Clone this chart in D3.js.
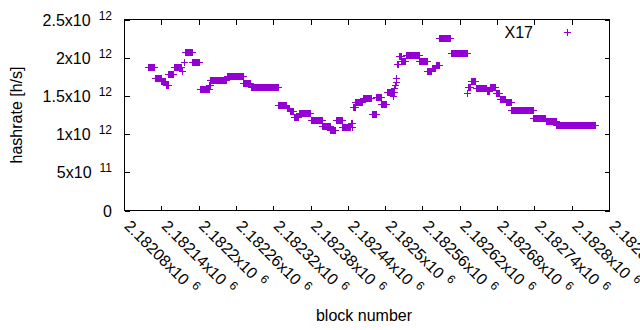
<!DOCTYPE html>
<html>
<head>
<meta charset="utf-8">
<script src="https://cdn.jsdelivr.net/npm/d3@7"></script>
<style>
  body { margin: 0; background: #fff; }
  svg text { font-family: "Liberation Sans", Arial, sans-serif; fill: #000; }
</style>
</head>
<body>
<svg width="640" height="330"></svg>
<script>
(function (d3) {
  'use strict';

  // runs of consecutive blocks sharing the same hashrate estimate
  const blockFrom = [2182119, 2182130, 2182140, 2182147, 2182151, 2182160, 2182173, 2182177, 2182178, 2182190,
    2182202, 2182217, 2182219, 2182245, 2182272, 2182284, 2182328, 2182342, 2182347, 2182353,
    2182361, 2182380, 2182399, 2182412, 2182421, 2182431, 2182445, 2182447, 2182448, 2182452,
    2182464, 2182479, 2182486, 2182494, 2182503, 2182512, 2182513, 2182515, 2182516, 2182517,
    2182518, 2182519, 2182522, 2182526, 2182533, 2182555, 2182568, 2182575, 2182581, 2182587,
    2182606, 2182632, 2182633, 2182638, 2182646, 2182663, 2182668, 2182678, 2182684, 2182694,
    2182703, 2182738, 2182758, 2182775];
  const blockTo = [2182129, 2182139, 2182146, 2182150, 2182159, 2182172, 2182173, 2182177, 2182189, 2182201,
    2182216, 2182218, 2182244, 2182271, 2182283, 2182327, 2182341, 2182346, 2182352, 2182360,
    2182379, 2182398, 2182411, 2182420, 2182430, 2182444, 2182446, 2182447, 2182451, 2182463,
    2182478, 2182485, 2182493, 2182502, 2182511, 2182512, 2182514, 2182515, 2182516, 2182517,
    2182518, 2182521, 2182525, 2182532, 2182554, 2182567, 2182574, 2182580, 2182586, 2182605,
    2182631, 2182632, 2182637, 2182645, 2182662, 2182667, 2182677, 2182683, 2182693, 2182702,
    2182737, 2182757, 2182774, 2182838];
  const hashrate = [1.88e12, 1.73e12, 1.69e12, 1.64e12, 1.79e12, 1.88e12, 1.82e12, 1.94e12, 2.07e12, 1.94e12,
    1.585e12, 1.64e12, 1.705e12, 1.754e12, 1.67e12, 1.62e12, 1.387e12, 1.34e12, 1.30e12, 1.23e12,
    1.27e12, 1.187e12, 1.11e12, 1.05e12, 1.19e12, 1.095e12, 1.145e12, 1.09e12, 1.35e12, 1.425e12,
    1.475e12, 1.265e12, 1.48e12, 1.40e12, 1.55e12, 1.505e12, 1.55e12, 1.60e12, 1.64e12, 1.68e12,
    1.73e12, 1.92e12, 2.02e12, 1.96e12, 2.03e12, 1.955e12, 1.82e12, 1.86e12, 1.90e12, 2.26e12,
    2.064e12, 1.535e12, 1.614e12, 1.70e12, 1.605e12, 1.57e12, 1.617e12, 1.54e12, 1.465e12, 1.415e12,
    1.32e12, 1.213e12, 1.167e12, 1.12e12];

  const xTicks = [2182080, 2182140, 2182200, 2182260, 2182320, 2182380, 2182440,
    2182500, 2182560, 2182620, 2182680, 2182740, 2182800, 2182860];
  const yTicks = [0, 5e11, 1e12, 1.5e12, 2e12, 2.5e12];
  const seriesName = 'X17';
  const xAxisLabelText = 'block number';
  const yAxisLabelText = 'hashrate [h/s]';

  const svg = d3.select('svg');
  const color = '#9400d3';
  const left = 124.5, right = 609.5, top = 19.5, bottom = 210.5;
  const tickLen = 5;

  const points = [];
  blockFrom.forEach((b, i) => {
    for (let n = b; n <= blockTo[i]; n++) points.push({ block: n, rate: hashrate[i] });
  });

  const xScale = d3.scaleLinear().domain([xTicks[0], xTicks[xTicks.length - 1]]).range([left, right]);
  const yScale = d3.scaleLinear().domain([yTicks[0], yTicks[yTicks.length - 1]]).range([bottom, top]);

  // "mantissa x10 exponent" like gnuplot's %t x10^{%T}
  const sci = v => {
    if (v === 0) return ['0', null];
    const e = Math.floor(Math.log10(v) + 1e-9);
    const m = +(v / Math.pow(10, e)).toFixed(5);
    return [m + 'x10', String(e)];
  };

  const plus = (x, y, r) => `M${x - r},${y}H${x + r}M${x},${y - r}V${y + r}`;

  // frame
  svg.append('rect')
    .attr('x', left).attr('y', top)
    .attr('width', right - left).attr('height', bottom - top)
    .attr('fill', 'none').attr('stroke', '#000').attr('stroke-width', 1)
    .attr('shape-rendering', 'crispEdges');

  // y ticks, mirrored on the right
  const yt = svg.append('g').attr('shape-rendering', 'crispEdges');
  yTicks.forEach(t => {
    const y = Math.round(yScale(t)) + 0.5;
    yt.append('path').attr('d', `M${left},${y}h${tickLen}M${right},${y}h${-tickLen}`)
      .attr('stroke', '#000');
    const [main, sup] = sci(t);
    const txt = svg.append('text')
      .attr('x', 112).attr('y', yScale(t) + 6)
      .attr('text-anchor', 'end')
      .style('font-size', '16px');
    txt.append('tspan').text(main);
    if (sup) txt.append('tspan').attr('dx', 8).attr('dy', -6).style('font-size', '12px').text(sup);
  });

  // x ticks, mirrored on top, labels rotated
  const xt = svg.append('g').attr('shape-rendering', 'crispEdges');
  xTicks.forEach(t => {
    const x = Math.round(xScale(t) - 0.5) + 0.5;
    xt.append('path').attr('d', `M${x},${bottom}v${-tickLen}M${x},${top}v${tickLen}`)
      .attr('stroke', '#000');
    const [main, sup] = sci(t);
    const txt = svg.append('text')
      .attr('transform', `translate(${xScale(t) - 1},227) rotate(45)`)
      .attr('text-anchor', 'start')
      .style('font-size', '16px');
    txt.append('tspan').text(main);
    txt.append('tspan').attr('dx', 6).attr('dy', -6).style('font-size', '12px').text(sup);
  });

  // series
  svg.append('g')
    .attr('shape-rendering', 'crispEdges')
    .selectAll('path').data(points)
    .enter().append('path')
      .attr('d', d => plus(xScale(d.block), Math.round(yScale(d.rate)) + 0.5, 3.5))
      .attr('fill', 'none')
      .attr('stroke', color)
      .attr('stroke-width', 1);

  // key
  svg.append('text')
    .attr('x', 533).attr('y', 37.5)
    .attr('text-anchor', 'end')
    .style('font-size', '16px')
    .text(seriesName);
  svg.append('path')
    .attr('d', plus(567.5, 32.5, 3.5))
    .attr('stroke', color).attr('fill', 'none')
    .attr('shape-rendering', 'crispEdges');

  // axis labels
  svg.append('text')
    .attr('transform', 'translate(22,115) rotate(-90)')
    .attr('text-anchor', 'middle')
    .style('font-size', '16px')
    .text(yAxisLabelText);
  svg.append('text')
    .attr('x', 364).attr('y', 321)
    .attr('text-anchor', 'middle')
    .style('font-size', '16px')
    .text(xAxisLabelText);

}(d3));
</script>
</body>
</html>
